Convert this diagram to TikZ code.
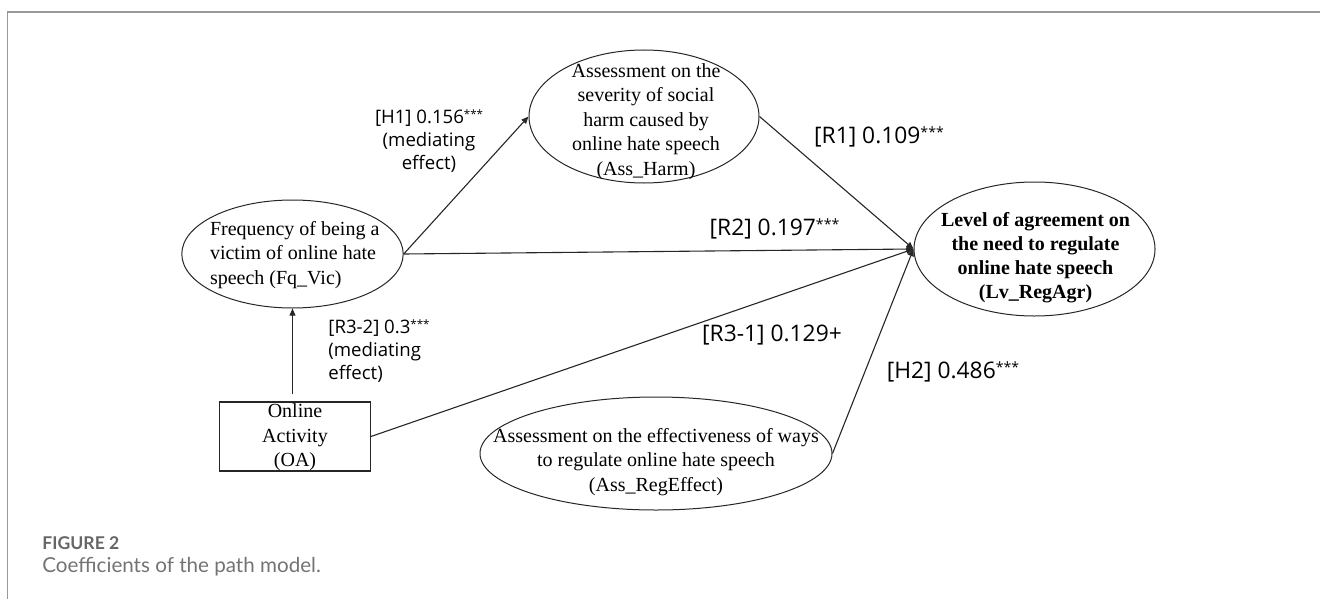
\documentclass[tikz,border=0pt]{standalone}
\usepackage{fontspec}
\setmainfont{Liberation Serif}
\newfontfamily\lblfont{Open Sans}
\newfontfamily\capfont{Lato}
\usetikzlibrary{arrows.meta,shapes.geometric}

% significance stars: small and raised
\newcommand\sigstars[1]{\raisebox{0.28em}{\fontsize{0.62em}{1em}\selectfont #1}}

\tikzset{
  var/.style={draw=black!85, line width=0.5pt, ellipse, inner sep=0pt},
  obsbox/.style={draw=black!85, line width=0.6pt, rectangle, inner sep=0pt},
  vtext/.style={inner sep=0pt, font=\fontsize{10}{12.3}\selectfont},
  link/.style={draw=black!85, line width=0.55pt, -{Triangle[length=3.6pt,width=3pt]}},
  coef/.style={inner sep=0pt, font=\lblfont\fontsize{11.4}{12}\selectfont},
  coefsm/.style={inner sep=0pt, font=\lblfont\fontsize{9.3}{11.5}\selectfont},
}

\begin{document}
\begin{tikzpicture}[x=0.5pt,y=-0.5pt]
\useasboundingbox (0,0) rectangle (1320,599);

% figure frame
\draw[black!40, line width=0.6pt] (1320,12) -- (7.6,12) -- (7.6,599);

% latent variables and the observed variable
\node[var, minimum width=110.7pt, minimum height=54pt] (fq) at (292.5,254) {};
\node[var, minimum width=115pt, minimum height=66.5pt] (harm) at (644,116.5) {};
\node[var, minimum width=120.5pt, minimum height=67pt] (agr) at (1034.5,249) {};
\node[var, minimum width=176pt, minimum height=56.5pt] (eff) at (656,453.5) {};
\node[obsbox, minimum width=75.35pt, minimum height=34.5pt] (oa) at (295,436.5) {};

% variable texts
\node[vtext, anchor=west, align=left] (fqT) at (209.6,255)
  {Frequency of being a\\victim of online hate\\speech (Fq\_Vic)};
\node[vtext, align=center] (harmT) at (646,121.5)
  {Assessment on the\\severity of social\\harm caused by\\online hate speech\\(Ass\_Harm)};
\node[vtext, align=center, font=\fontsize{10}{12}\selectfont\bfseries] (agrT) at (1035.5,258)
  {Level of agreement on\\the need to regulate\\online hate speech\\(Lv\_RegAgr)};
\node[vtext, align=center] (effT) at (656,462)
  {Assessment on the effectiveness of ways\\to regulate online hate speech\\(Ass\_RegEffect)};
\node[vtext, align=center] (oaT) at (295,437.5)
  {Online\\Activity\\(OA)};

% paths
\draw[link, shorten <=3.5pt] (oa.north -| fq.south) -- (fq.south);
\draw[link] (fq.east) -- (harm.west);
\draw[link] (harm.east) -- (agr.west);
\draw[link] (fq.east) -- (agr.west);
\draw[link] (oa.east) -- (agr.west);
\draw[link] (eff.east) -- (agr.west);

% path coefficients
\node[coefsm, align=center] (cH1) at (429,141) {[H1] 0.156\sigstars{***}\\(mediating\\effect)};
\node[coefsm, align=left, anchor=west] (cR32) at (328,351) {[R3-2] 0.3\sigstars{***}\\(mediating\\effect)};
\node[coef] (cR1) at (879,137) {[R1] 0.109\sigstars{***}};
\node[coef] (cR2) at (774.5,229) {[R2] 0.197\sigstars{***}};
\node[coef] (cR31) at (772,335) {[R3-1] 0.129+};
\node[coef] (cH2) at (953,372) {[H2] 0.486\sigstars{***}};

% caption
\node[inner sep=0pt, anchor=west, text=black!60, font=\capfont\bfseries\fontsize{8.8}{10}\selectfont] (capA) at (42,543) {FIGURE 2};
\node[inner sep=0pt, anchor=west, text=black!55, font=\capfont\fontsize{10.3}{12}\selectfont] (capB) at (42,567) {Coefficients of the path model.};
\end{tikzpicture}
\end{document}
